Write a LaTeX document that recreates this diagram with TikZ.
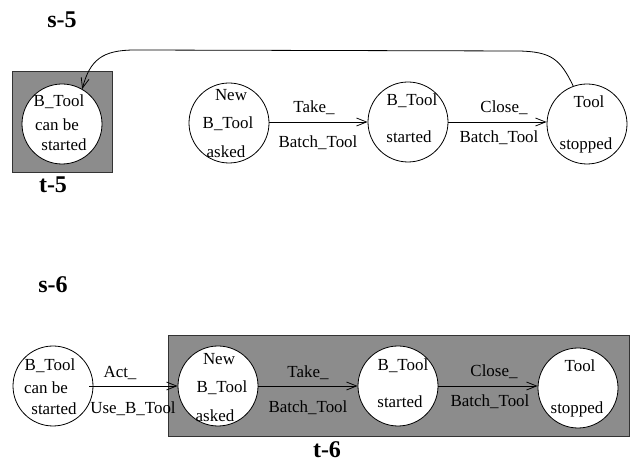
\documentclass[tikz,border=0pt]{standalone}
\usepackage{fontspec}
\setmainfont{Liberation Serif}
\usetikzlibrary{arrows.meta}
\definecolor{boxgray}{RGB}{140,140,140}
\begin{document}
\begin{tikzpicture}[x=0.75pt,y=-0.75pt,
  state/.style={circle,draw,fill=white,line width=0.6pt,minimum size=60pt,inner sep=0pt},
  txt/.style={inner sep=0pt,font=\fontsize{12.7}{14}\selectfont},
  lab/.style={inner sep=0pt,font=\fontsize{18}{20}\selectfont\bfseries},
  grp/.style={draw=black!80,fill=boxgray,line width=0.6pt},
  arr/.style={line width=0.6pt,-{Straight Barb[length=7.5pt,width=6pt]}}]
\useasboundingbox (0,0) rectangle (632,466);
% ---------- s-5 ----------
\node[lab] (s5) at (62,20) {s-5};
\draw[grp] (12,71) rectangle (112,172);
\node[lab] (t5) at (53,185) {t-5};
\node[state] (a1) at (62,124) {};
\node[txt] (a1t1) at (59,102) {B\_Tool};
\node[txt] (a1t2) at (57,125) {can be};
\node[txt] (a1t3) at (64,145) {started};
\node[state] (b1) at (229,123) {};
\node[txt] (b1t1) at (231,95) {New};
\node[txt] (b1t2) at (228,124) {B\_Tool};
\node[txt] (b1t3) at (226,152) {asked};
\node[state] (c1) at (408,122) {};
\node[txt] (c1t1) at (412,101) {B\_Tool};
\node[txt] (c1t2) at (409,137) {started};
\node[state] (d1) at (587,124) {};
\node[txt] (d1t1) at (589,102) {Tool};
\node[txt] (d1t2) at (586,145) {stopped};
\draw[arr] (b1.east |- 0,122) -- (c1.west);
\node[txt] (e1a) at (314,108) {Take\_};
\node[txt] (e1b) at (318,143) {Batch\_Tool};
\draw[arr] (c1.east) -- (d1.west |- 0,122);
\node[txt] (e2a) at (504,108) {Close\_};
\node[txt] (e2b) at (499,138) {Batch\_Tool};
\draw[arr] (d1.110) .. controls (560,58) and (550,52) .. (520,51) -- (135,50) .. controls (102,50) and (90,60) .. (a1.60);
% ---------- s-6 ----------
\node[lab] (s6) at (53,285) {s-6};
\draw[grp] (168,335) rectangle (629,436);
\node[lab] (t6) at (327,450) {t-6};
\node[state] (a2) at (53,386) {};
\node[txt] (a2t1) at (50,366) {B\_Tool};
\node[txt] (a2t2) at (46,388) {can be};
\node[txt] (a2t3) at (54,409) {started};
\node[state] (b2) at (218,386) {};
\node[txt] (b2t1) at (219,359) {New};
\node[txt] (b2t2) at (222,388) {B\_Tool};
\node[txt] (b2t3) at (215,416) {asked};
\node[state] (c2) at (398,386) {};
\node[txt] (c2t1) at (403,366) {B\_Tool};
\node[txt] (c2t2) at (400,402) {started};
\node[state] (d2) at (578,388) {};
\node[txt] (d2t1) at (580,366) {Tool};
\node[txt] (d2t2) at (577,409) {stopped};
\coordinate (g0) at (89,386);
\draw[arr] (g0) -- (b2.west);
\node[txt] (f0a) at (120,373) {Act\_};
\node[txt] (f0b) at (133,409) {Use\_B\_Tool};
\draw[arr] (b2.east) -- (c2.west);
\node[txt] (f1a) at (308,373) {Take\_};
\node[txt] (f1b) at (308,408) {Batch\_Tool};
\draw[arr] (c2.east) -- (d2.west |- 0,386);
\node[txt] (f2a) at (494,372) {Close\_};
\node[txt] (f2b) at (490,402) {Batch\_Tool};
\end{tikzpicture}
\end{document}
